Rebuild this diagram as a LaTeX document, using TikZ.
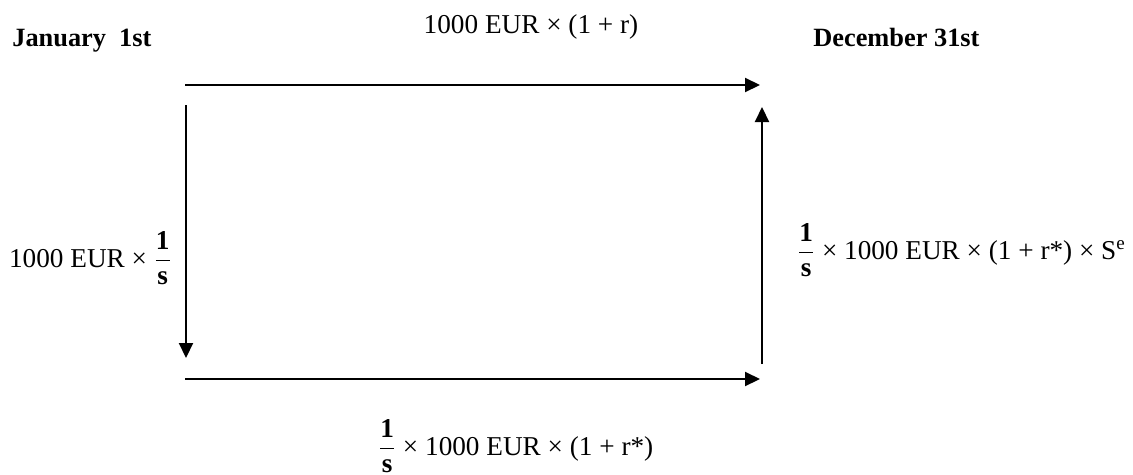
\documentclass[tikz,border=0pt]{standalone}
\usepackage{amsmath}
\usepackage{fontspec}
\setmainfont{Liberation Serif}
\usetikzlibrary{arrows.meta}
\tikzset{
  flow/.style={line width=1.2pt,-{Triangle[length=0.3cm,width=0.28cm]}},
  datelbl/.style={font=\fontsize{15}{18}\selectfont\bfseries,inner sep=0pt},
  sumlbl/.style={font=\fontsize{15.5}{19}\selectfont,inner sep=0pt}
}
\newcommand{\invs}{$\dfrac{\textbf{1}}{\textbf{s}}$}
\begin{document}
\begin{tikzpicture}[x=0.02cm,y=-0.02cm]
\useasboundingbox (0,0) rectangle (1133,474);
% dates
\node[datelbl,anchor=base west] (jan) at (12,46) {January\ \ 1st};
\node[datelbl,anchor=base west] (dec) at (813,46) {December 31st};
% corners of the cycle
\coordinate (tl) at (185,85);
\coordinate (tr) at (760,85);
\coordinate (lt) at (186,105);
\coordinate (lb) at (186,358);
\coordinate (bl) at (185,379);
\coordinate (br) at (760,379);
\coordinate (rb) at (762,364);
\coordinate (rt) at (762,107);
\draw[flow] (tl) -- (tr);
\draw[flow] (lt) -- (lb);
\draw[flow] (bl) -- (br);
\draw[flow] (rb) -- (rt);
% amounts
\node[sumlbl,anchor=base] (home) at (531,33) {1000 EUR × (1 + r)};
\node[sumlbl,anchor=base east] (conv) at (172,267) {1000 EUR × \invs};
\node[sumlbl,anchor=base west] (back) at (797,259) {\invs{} × 1000 EUR × (1 + r*) × S\textsuperscript{e}};
\node[sumlbl,anchor=base west] (abroad) at (378,455) {\invs{} × 1000 EUR × (1 + r*)};
\end{tikzpicture}
\end{document}
